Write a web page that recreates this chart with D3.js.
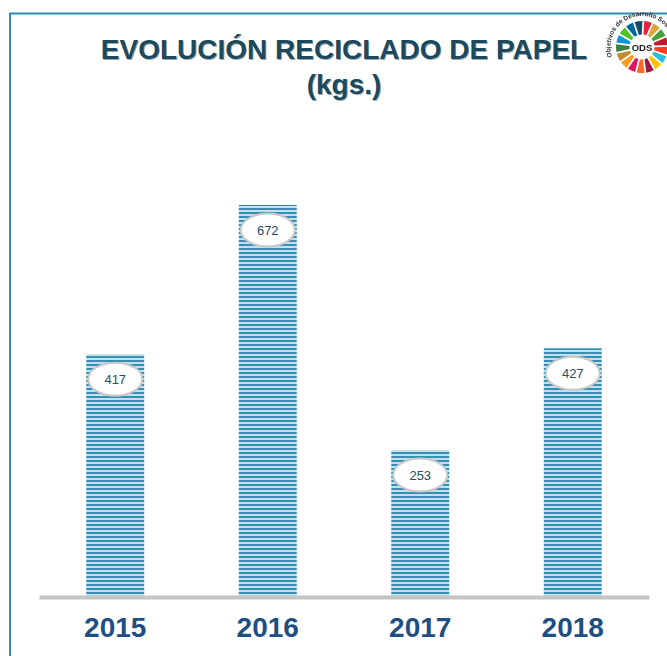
<!DOCTYPE html>
<html><head><meta charset="utf-8">
<script src="https://cdn.jsdelivr.net/npm/d3@7"></script>
<style>html,body{margin:0;padding:0;background:#fff;overflow:hidden}svg{display:block}</style>
</head><body><div id="c"></div>
<script>
const years = ["2015","2016","2017","2018"];
const values = [417,672,253,427];
const titleLines = ["EVOLUCIÓN RECICLADO DE PAPEL","(kgs.)"];
const sdgColors = ["#e5243b","#dda63a","#4c9f38","#c5192d","#ff3a21","#26bde2","#fcc30b","#a21942","#fd6925","#dd1367","#fd9d24","#bf8b2e","#3f7e44","#0a97d9","#56c02b","#00689d","#19486a"];
const W=667,H=656;
const svg=d3.select("#c").append("svg").attr("width",W).attr("height",H);
const defs=svg.append("defs");
const pat=defs.append("pattern").attr("id","st").attr("patternUnits","userSpaceOnUse").attr("width",4).attr("height",4);
pat.append("rect").attr("width",4).attr("height",4).attr("fill","#c4e0ea");
pat.append("rect").attr("width",4).attr("height",2).attr("fill","#358fb3");
const mk=(id,s)=>defs.append("filter").attr("id",id).attr("x","-10%").attr("y","-20%").attr("width","120%").attr("height","140%").append("feGaussianBlur").attr("stdDeviation",s);
mk("sh",0.7);mk("soft",0.35);mk("barSoft",0.45);
// frame
svg.append("path").attr("d","M10,656V13.5H667").attr("fill","none").attr("stroke","#2e8cb0").attr("stroke-width",2);
const x=d3.scaleBand().domain(years).range([39,649]).paddingInner(0.62).paddingOuter(0.31);
const y=d3.scaleLinear().domain([0,672]).range([598,205]);
// bars
svg.selectAll("rect.bar").data(values).join("rect").attr("class","bar")
 .attr("x",(d,i)=>x(years[i])).attr("y",d=>y(d)).attr("width",x.bandwidth()).attr("height",d=>y(0)-y(d)).attr("fill","url(#st)").attr("filter","url(#barSoft)");
// axis
const ax=svg.append("g").attr("transform","translate(0,597)").call(d3.axisBottom(x).tickSize(0).tickPadding(20));
ax.select(".domain").attr("stroke","#c4c4c4").attr("stroke-width",4);
ax.selectAll("text").attr("font-family","Liberation Sans").attr("font-weight","bold").attr("font-size",28).attr("fill","#1f4e82");
// labels
const lab=svg.selectAll("g.lab").data(values).join("g").attr("class","lab")
 .attr("transform",(d,i)=>`translate(${x(years[i])+x.bandwidth()/2},${y(d)+25})`);
lab.append("ellipse").attr("rx",27).attr("ry",16.5).attr("fill","#fff").attr("stroke","#c8c8c8").attr("stroke-width",2);
lab.append("text").text(d=>d).attr("text-anchor","middle").attr("y",4.5).attr("font-family","Liberation Sans").attr("font-size",13).attr("fill","#24506a");
// title
const tt=svg.append("g").attr("font-family","Liberation Sans").attr("font-weight","bold").attr("text-anchor","middle").attr("font-size",28);
[[344,59],[344,94]].forEach((p,i)=>{
 tt.append("text").attr("x",p[0]+1).attr("y",p[1]+1).text(titleLines[i]).attr("fill","#9aa9b0").attr("filter","url(#sh)");
 tt.append("text").attr("x",p[0]).attr("y",p[1]).text(titleLines[i]).attr("fill","#1b4a5e");
});
// logo
const logo=svg.append("g").attr("transform","translate(642,47)").attr("filter","url(#soft)");
const pie=d3.pie().value(1).sort(null).padAngle(0.06).startAngle(0.05).endAngle(2*Math.PI+0.05);
const arc=d3.arc().innerRadius(12.5).outerRadius(26);
logo.selectAll("path.w").data(pie(sdgColors)).join("path").attr("class","w").attr("d",arc).attr("fill",(d,i)=>sdgColors[i]);
logo.append("text").text("ODS").attr("text-anchor","middle").attr("y",3.5).attr("font-family","Liberation Sans").attr("font-weight","bold").attr("font-size",9.5).attr("fill","#222");
defs.append("path").attr("id","ring").attr("d","M-30,10A31.5,31.5 0 1 1 30,10");
logo.append("text").attr("font-family","Liberation Sans").attr("font-weight","bold").attr("font-size",6.5).attr("fill","#333")
 .append("textPath").attr("href","#ring").text("Objetivos de Desarrollo Sostenible");
</script></body></html>
